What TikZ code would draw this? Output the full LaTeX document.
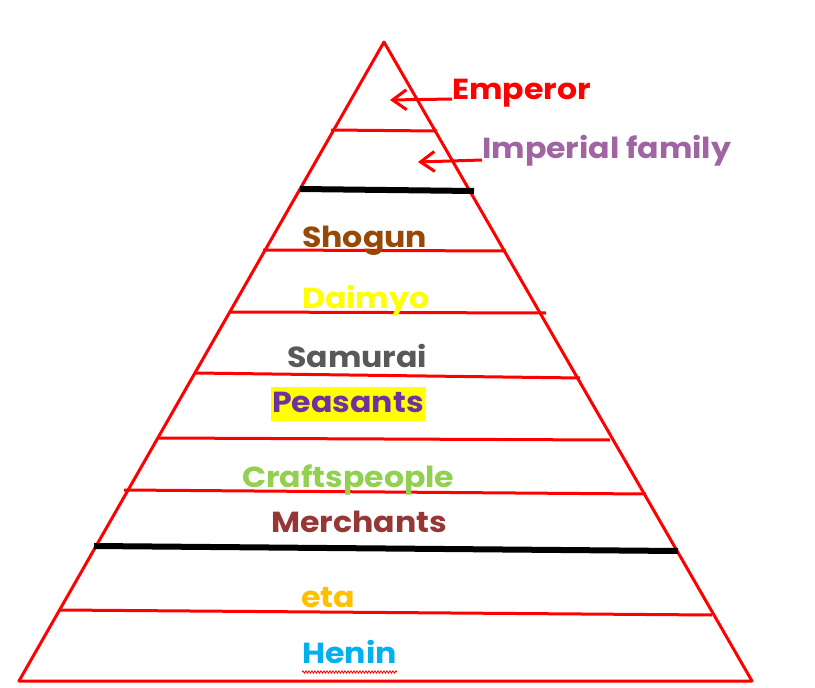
\documentclass[tikz,border=0pt]{standalone}
\usepackage{fontspec}
\setmainfont{Poppins}[FakeStretch=1.09]
\usepackage{xcolor}
\usetikzlibrary{calc, arrows.meta, decorations.pathmorphing}
\definecolor{TierRed}{HTML}{FF0000}
\definecolor{Plum}{HTML}{A064A3}
\definecolor{Bronze}{HTML}{984807}
\definecolor{Lemon}{HTML}{FFFF00}
\definecolor{Slate}{HTML}{595959}
\definecolor{Grape}{HTML}{7030A0}
\definecolor{Lime}{HTML}{92D050}
\definecolor{Brick}{HTML}{953735}
\definecolor{Amber}{HTML}{FFC000}
\definecolor{Sky}{HTML}{00B0F0}

\begin{document}
\begin{tikzpicture}[x=1pt, y=-1pt,
      edge/.style={draw=TierRed, line width=3pt, line join=round},
      split/.style={draw=black, line width=6pt},
      rank/.style={font=\fontsize{29}{32}\selectfont\bfseries, inner sep=0pt, anchor=base west},
      pointer/.style={TierRed, line width=3pt, -{Straight Barb[length=14pt, width=20pt, line width=3pt]}}]
      \useasboundingbox (0,0) rectangle (815,688);

      % Pyramid outline
      \coordinate (apex) at (384,42);
      \coordinate (bl) at (19,681);
      \coordinate (br) at (752,681);
      \draw[edge] (apex) -- (bl) -- (br) -- cycle;

      % Tier lines
      \draw[edge] (331,130) -- (437,131);
      \draw[split] (300,189) -- (474,191);
      \draw[edge] (263,250) -- (506,251);
      \draw[edge] (231,312) -- (546,313);
      \draw[edge] (195,373) -- (580,378);
      \draw[edge] (159,438) -- (610,440);
      \draw[edge] (124,490) -- (646,494);
      \draw[split] (94,546) -- (678,551);
      \draw[edge] (60,610) -- (712,615);

      % Ranks
      \node[rank, text=TierRed] (emperor) at (452,99) {Emperor};
      \node[rank, text=Plum] (imperial) at (482,158) {Imperial family};
      \node[rank, text=Bronze] (shogun) at (302,247) {Shogun};
      \node[rank, text=Lemon] (daimyo) at (302,308) {Daimyo};
      \node[rank, text=Slate] (samurai) at (287,367) {Samurai};
      \node[rank, text=Grape, fill=Lemon, inner xsep=1pt, text height=25pt, text depth=9pt] (peasants) at (271,412) {Peasants};
      \node[rank, text=Lime] (crafts) at (242,487) {Craftspeople};
      \node[rank, text=Brick] (merchants) at (271,532) {Merchants};
      \node[rank, text=Amber] (eta) at (301,607) {eta};
      \node[rank, text=Sky] (henin) at (302,663) {Henin};

      % Pointers
      \coordinate (empTip) at (390,100);
      \coordinate (impTip) at (418,162);
      \draw[pointer] (emperor.base west) -- (empTip);
      \draw[pointer] ([yshift=-2pt]imperial.base west) -- (impTip);

      % Spell-check squiggle
      \draw[TierRed, line width=0.8pt, decorate, decoration={snake, amplitude=1.2pt, segment length=3pt}]
        ([yshift=-9pt]henin.base west) -- ([yshift=-9pt]henin.base east);
    \end{tikzpicture}
\end{document}
